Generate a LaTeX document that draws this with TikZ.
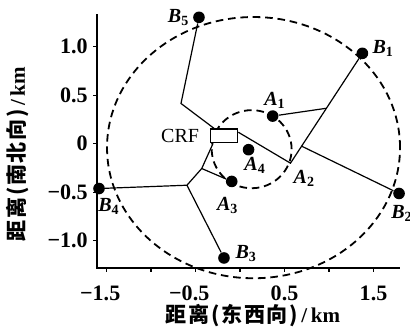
\documentclass[tikz,border=0pt]{standalone}
\usepackage{fontspec}
\setmainfont{Liberation Serif}
\newfontfamily\cjk[LetterSpace=8]{Noto Sans CJK SC}
\usetikzlibrary{positioning, calc}
\newcommand\sitelab[2]{#1\textsubscript{\upshape #2}}

\begin{document}
\begin{tikzpicture}[x=44.45pt, y=48.5pt,
  dot/.style={circle, fill=black, inner sep=0pt, minimum size=5.8pt},
  lbl/.style={inner sep=0pt, font=\fontsize{10}{12}\selectfont\bfseries\itshape},
  num/.style={inner sep=0pt, font=\fontsize{11}{12}\selectfont\bfseries},
  axlab/.style={font=\fontsize{10.5}{12}\selectfont\bfseries},
  link/.style={line width=0.6pt},
  ring/.style={line width=0.9pt, dash pattern=on 3.8pt off 2.4pt},
  axis/.style={line width=1pt},
  tick/.style={line width=0.6pt}
]
  \useasboundingbox (-2.6966,-1.9330) rectangle (1.9101,1.4794);

  % axes
  \coordinate (o) at (-1.603,-1.278);
  \coordinate (ytop) at (-1.603,1.335);
  \coordinate (xend) at (1.8,-1.278);
  \draw[axis] (ytop) -- (o) -- (xend);
  \foreach \v in {-1.5,-1,...,1.5}
    \draw[tick] (\v,-1.278) -- ++(0,-2pt);
  \foreach \v in {-1,-0.5,...,1}
    \draw[tick] (-1.603,\v) -- ++(-2pt,0);
  \foreach \v/\t in {-1.5/{\llap{−}1.5}, -0.5/{\llap{−}0.5}, 0.5/0.5, 1.5/1.5}
    \node[num, anchor=north, yshift=-8.7pt] at (\v,-1.278) {\t};
  \foreach \v/\t in {1/1.0, 0.5/0.5, 0/0, -0.5/−0.5, -1/−1.0}
    \node[num, anchor=east, xshift=-4.6pt] at (-1.603,\v) {\t};
  \node[axlab] (xlab) at (0.146,-1.768)
    {{\cjk 距离(东西向)}\,/\,km};
  \node[axlab, rotate=90] (ylab) at (-2.494,-0.108)
    {{\cjk 距离(南北向)}\,/\,km};

  % service rings
  \coordinate (cbig) at (0.152,-0.041);
  \coordinate (csmall) at (0.131,-0.057);
  \draw[ring] (cbig) circle[x radius=1.646, y radius=1.345];
  \draw[ring] (csmall) circle[x radius=0.449, y radius=0.402];

  % stations
  \node[draw, fill=white, line width=0.6pt, inner sep=0pt,
    minimum width=13.5pt, minimum height=6.9pt] (crf) at (-0.178,0.079) {};
  \node[dot] (b5) at (-0.461,1.301) {};
  \node[dot] (b1) at (1.375,0.930) {};
  \node[dot] (a1) at (0.367,0.284) {};
  \node[dot] (a4) at (0.096,-0.062) {};
  \node[dot] (b2) at (1.787,-0.513) {};
  \node[dot] (a3) at (-0.093,-0.389) {};
  \node[dot] (b3) at (-0.180,-1.177) {};
  \node[dot] (b4) at (-1.584,-0.462) {};

  \coordinate (j5) at (-0.663,0.414);
  \coordinate (a2) at (0.567,-0.201);
  \coordinate (j3) at (-0.430,-0.256);
  \coordinate (j4) at (-0.596,-0.428);
  \coordinate (jb2) at ($(a2)!0.155!(b1)$);
  \coordinate (ja1) at ($(a2)!0.5!(b1)$);

  % cables
  \draw[link] (b5) -- (j5) -- (crf);
  \draw[link] (crf.15) -- (a2) -- (b1);
  \draw[link] (ja1) -- (a1);
  \draw[link] (jb2) -- (b2);
  \draw[link] (crf.214) -- (j3) -- (j4) -- (b4);
  \draw[link] (j3) -- (a3);
  \draw[link] (j4) -- (b3);

  % labels
  \node[font=\fontsize{10}{12}\selectfont, inner sep=0pt, left=5.3pt of crf] (crflab) {CRF};
  \node[lbl, left=1.5pt of b5] (b5lab) {\sitelab B5};
  \node[lbl, right=1.8pt of b1, yshift=2.6pt] (b1lab) {\sitelab B1};
  \node[lbl, above=0.5pt of a1, xshift=1.2pt] (a1lab) {\sitelab A1};
  \node[lbl, below=0.7pt of a4, xshift=3.3pt] (a4lab) {\sitelab A4};
  \node[lbl, below right=3.5pt and 1.4pt of a2] (a2lab) {\sitelab A2};
  \node[lbl, below=4.5pt of a3, xshift=-2pt] (a3lab) {\sitelab A3};
  \node[lbl, below=2.8pt of b2, xshift=1.5pt] (b2lab) {\sitelab B2};
  \node[lbl, right=2.5pt of b3, yshift=2pt] (b3lab) {\sitelab B3};
  \node[lbl, below=1.8pt of b4, xshift=5pt] (b4lab) {\sitelab B4};
\end{tikzpicture}
\end{document}
